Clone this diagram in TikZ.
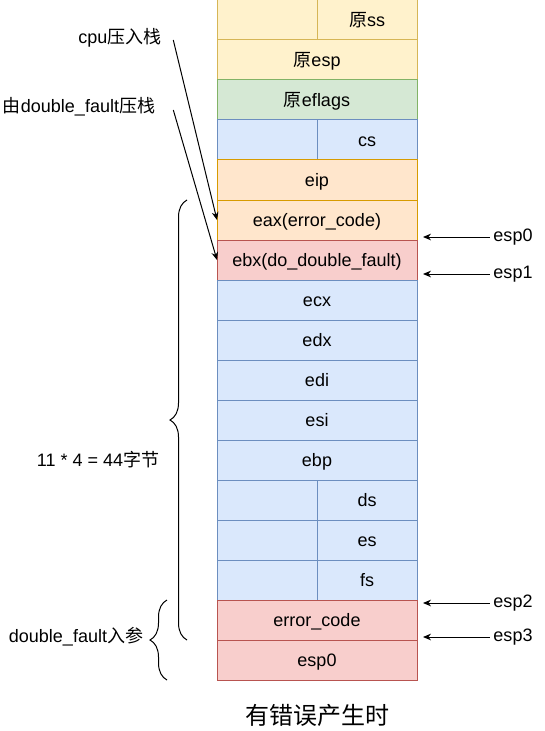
\documentclass[tikz,border=0pt]{standalone}
\usepackage{fontspec}
\setmainfont{Liberation Sans}
\newfontfamily\cjk{Noto Sans CJK SC}
\usepackage{tikz}
\usetikzlibrary{positioning,arrows.meta,decorations.pathreplacing}
\usepackage{xcolor}

\definecolor{yelfill}{HTML}{FFF2CC}
\definecolor{yeldraw}{HTML}{D6B656}
\definecolor{grnfill}{HTML}{D5E8D4}
\definecolor{grndraw}{HTML}{82B366}
\definecolor{blufill}{HTML}{DAE8FC}
\definecolor{bludraw}{HTML}{6C8EBF}
\definecolor{orgfill}{HTML}{FFE6CC}
\definecolor{orgdraw}{HTML}{D79B00}
\definecolor{redfill}{HTML}{F8CECC}
\definecolor{reddraw}{HTML}{B85450}

\begin{document}
\begin{tikzpicture}[
    x=0.75pt, y=-0.75pt,
    font=\fontsize{13.5}{16}\selectfont,
    cell/.style={rectangle, line width=0.75pt, minimum width=150pt, minimum height=30pt, inner sep=0pt, outer sep=0pt, text height=12.2pt, text depth=2.9pt, text centered},
    half/.style={cell, minimum width=75pt},
    yel/.style={fill=yelfill, draw=yeldraw},
    grn/.style={fill=grnfill, draw=grndraw},
    blu/.style={fill=blufill, draw=bludraw},
    org/.style={fill=orgfill, draw=orgdraw},
    red/.style={fill=redfill, draw=reddraw},
    lbl/.style={inner sep=0pt},
    arrow/.style={-{Stealth[length=6pt,width=5pt]}, line width=0.75pt},
    brace/.style={decorate, decoration={brace, amplitude=12.75pt}, line width=0.75pt}
]
\useasboundingbox (0,0) rectangle (545,731);

% Stack, top to bottom
\node[half, yel] (ssa) at (267,20) {};
\node[half, yel, right=0pt of ssa] (ss) {{\cjk 原}ss};
\node[cell, yel, below=0pt of ssa.south east] (esp) {{\cjk 原}esp};
\node[cell, grn, below=0pt of esp] (eflags) {{\cjk 原}eflags};
\node[half, blu, below left=0pt and 0pt of eflags.south] (csa) {};
\node[half, blu, right=0pt of csa] (cs) {cs};
\node[cell, org, below=0pt of csa.south east] (eip) {eip};
\node[cell, org, below=0pt of eip] (eax) {eax(error\_code)};
\node[cell, red, below=0pt of eax] (ebx) {ebx(do\_double\_fault)};
\node[cell, blu, below=0pt of ebx] (ecx) {ecx};
\node[cell, blu, below=0pt of ecx] (edx) {edx};
\node[cell, blu, below=0pt of edx] (edi) {edi};
\node[cell, blu, below=0pt of edi] (esi) {esi};
\node[cell, blu, below=0pt of esi] (ebp) {ebp};
\node[half, blu, below left=0pt and 0pt of ebp.south] (dsa) {};
\node[half, blu, right=0pt of dsa] (ds) {ds};
\node[half, blu, below=0pt of dsa] (esa) {};
\node[half, blu, right=0pt of esa] (es) {es};
\node[half, blu, below=0pt of esa] (fsa) {};
\node[half, blu, right=0pt of fsa] (fs) {fs};
\node[cell, red, below=0pt of fsa.south east] (errcode) {error\_code};
\node[cell, red, below=0pt of errcode] (espz) {esp0};

\node[font=\fontsize{18}{22}\selectfont] (title) at (317,715) {{\cjk 有错误产生时}};

% Left labels
\node[lbl] (cpu) at (120,38) {cpu{\cjk 压入栈}};
\node[lbl] (dbl) at (79,107) {{\cjk 由}double\_fault{\cjk 压栈}};
\node[lbl] (size) at (98,460) {11 * 4 = 44{\cjk 字节}};
\node[lbl] (param) at (76,637) {double\_fault{\cjk 入参}};

\draw[arrow] ([shift={(11.5,2)}]cpu.east) -- (eax.west);
\draw[arrow] ([shift={(18,3)}]dbl.east) -- (ebx.west);

\draw[brace] (187,640) -- (187,200);
\draw[brace] (167,680) -- (167,600);

% Stack pointers
\node[lbl] (p0) at (513,237) {esp0};
\node[lbl] (p1) at (513,274) {esp1};
\node[lbl] (p2) at (513,603) {esp2};
\node[lbl] (p3) at (513,637) {esp3};

\coordinate (q0) at (423,237);
\coordinate (q1) at (423,274);
\coordinate (q2) at (423,603);
\coordinate (q3) at (423,637);

\draw[arrow] ([xshift=-2.6pt]p0.west) -- (q0);
\draw[arrow] ([xshift=-2.6pt]p1.west) -- (q1);
\draw[arrow] ([xshift=-2.6pt]p2.west) -- (q2);
\draw[arrow] ([xshift=-2.6pt]p3.west) -- (q3);

\end{tikzpicture}
\end{document}
